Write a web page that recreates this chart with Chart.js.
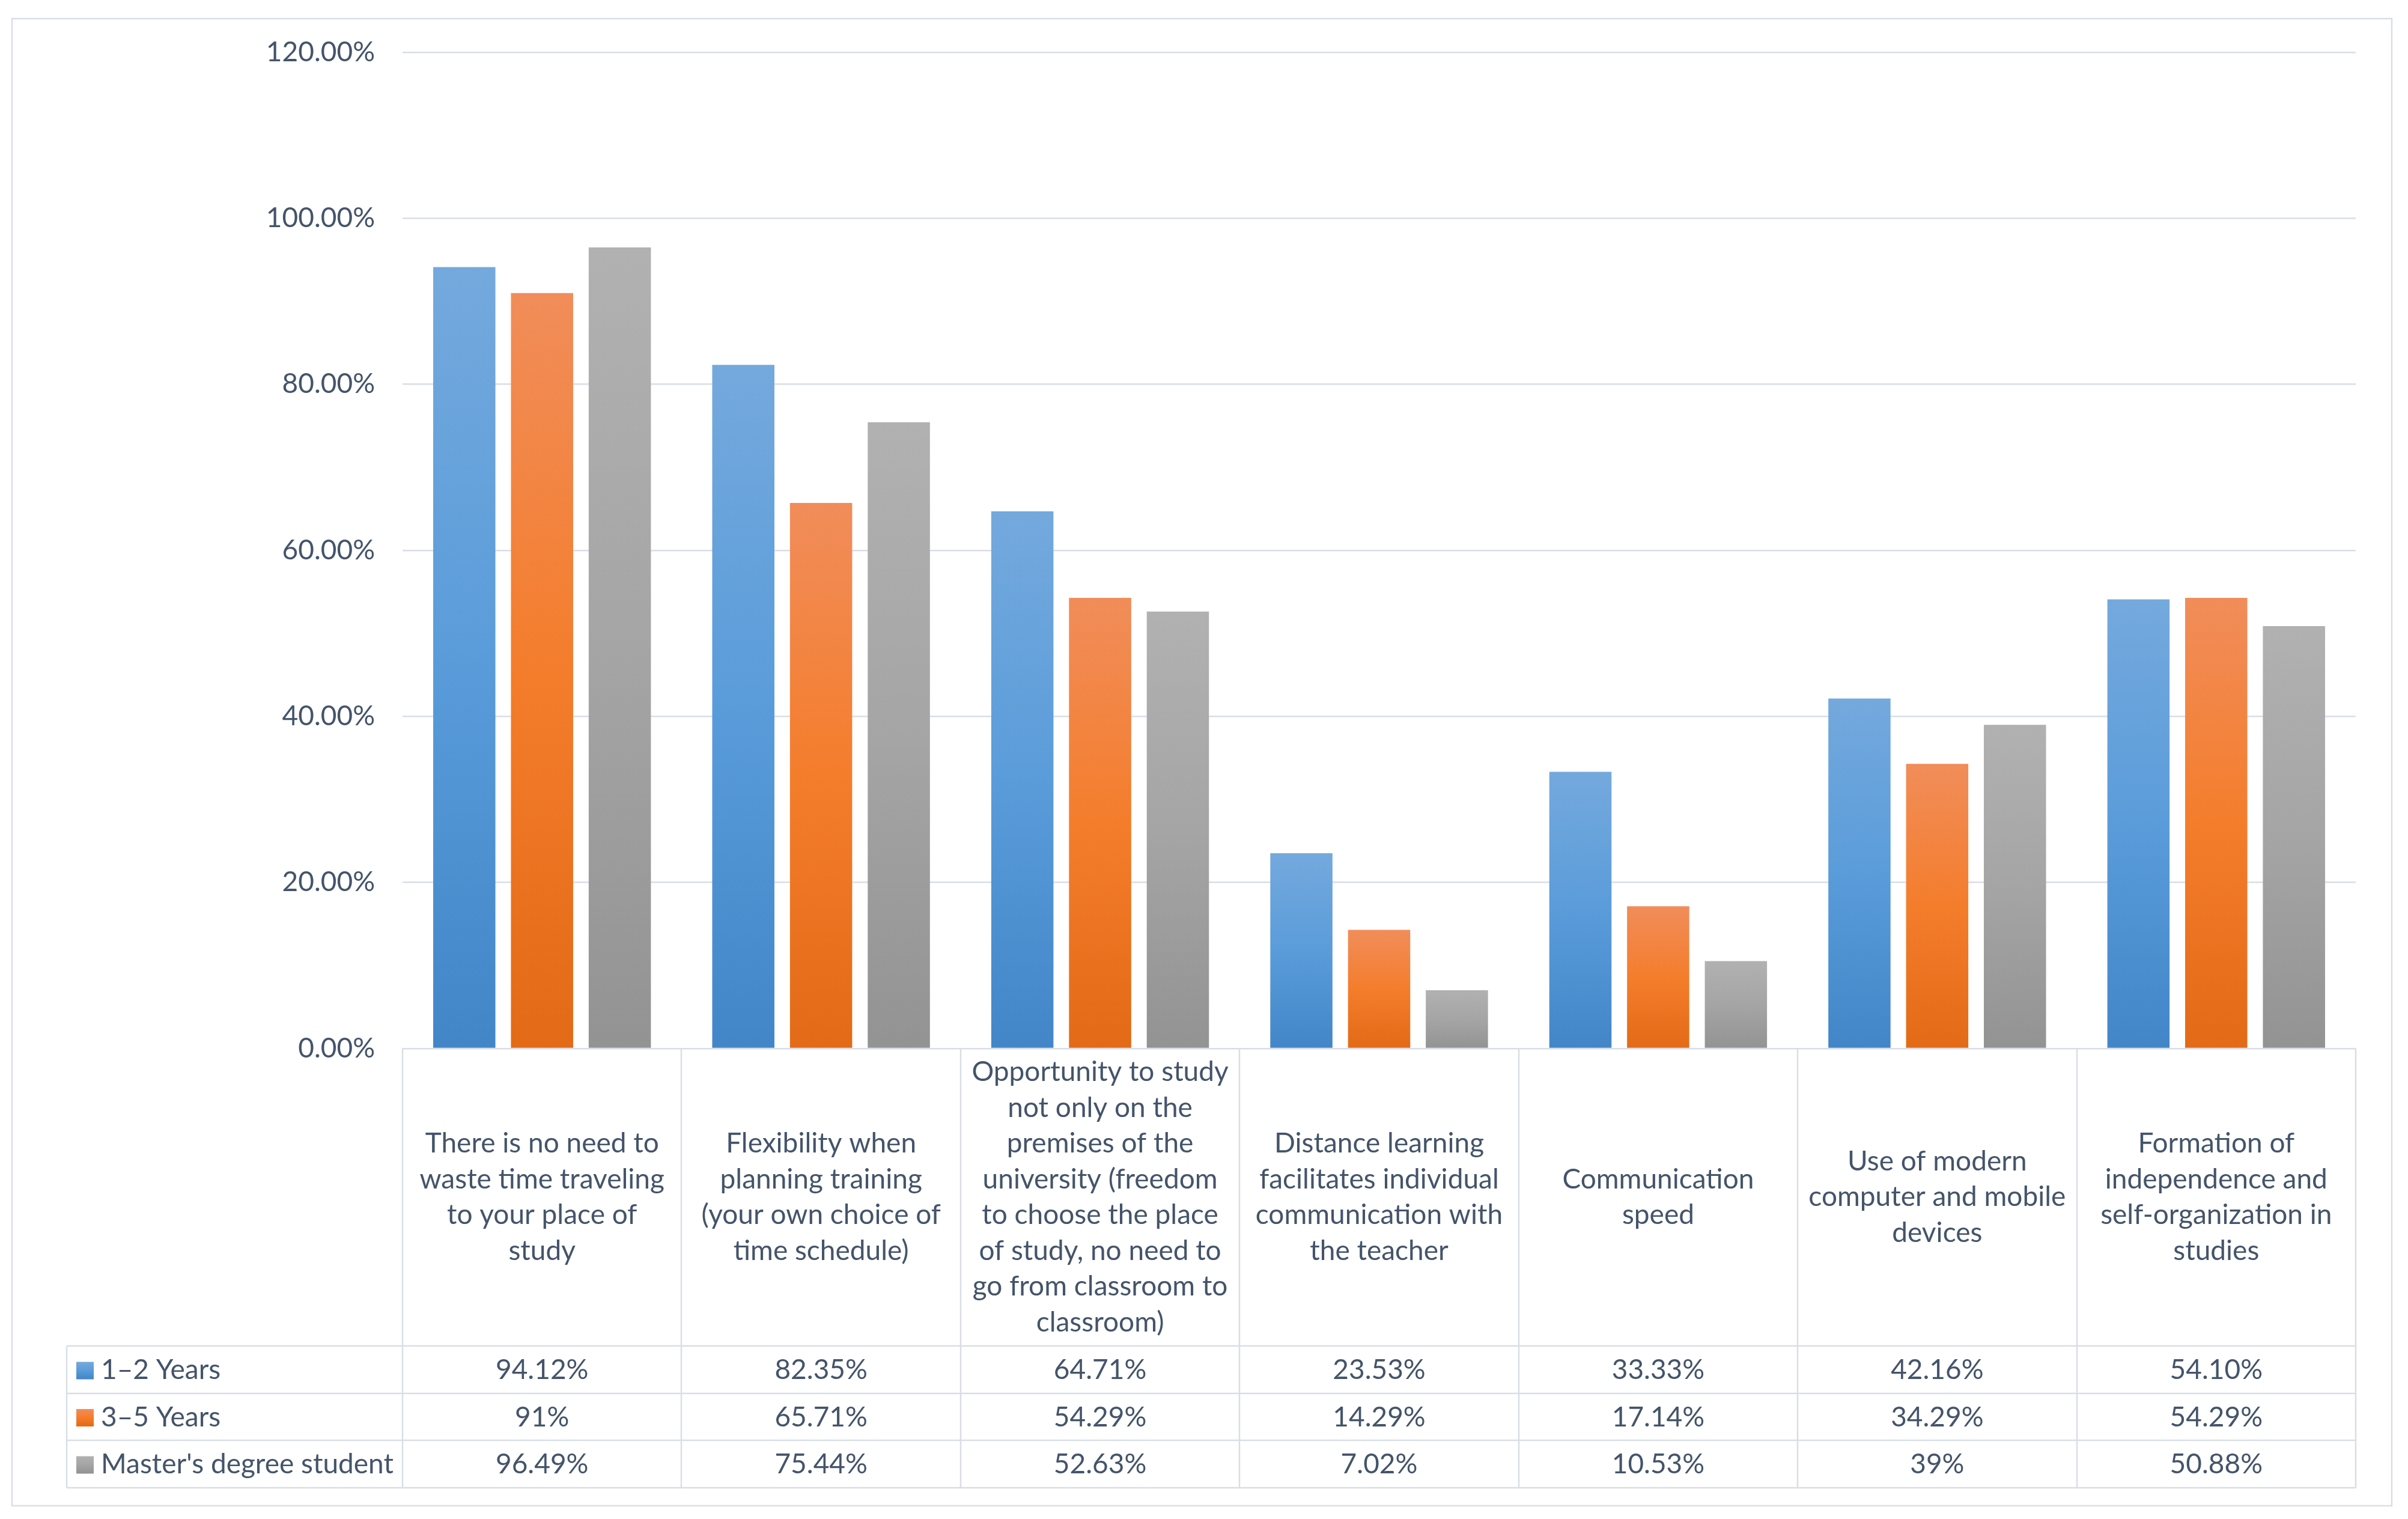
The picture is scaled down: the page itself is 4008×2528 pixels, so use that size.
<!DOCTYPE html>
<html>
<head>
<meta charset="utf-8">
<title>Distance learning advantages</title>
<script src="https://cdn.jsdelivr.net/npm/chart.js@4.4.1/dist/chart.umd.min.js"></script>
<style>
  html, body { margin: 0; padding: 0; background: #ffffff; }
  canvas { display: block; }
</style>
</head>
<body>
<canvas id="chart" width="4008" height="2528"></canvas>
<script>
"use strict";

const categories = [
  ['There is no need to', 'waste time traveling', 'to your place of', 'study'],
  ['Flexibility when', 'planning training', '(your own choice of', 'time schedule)'],
  ['Opportunity to study', 'not only on the', 'premises of the', 'university (freedom',
   'to choose the place', 'of study, no need to', 'go from classroom to', 'classroom)'],
  ['Distance learning', 'facilitates individual', 'communication with', 'the teacher'],
  ['Communication', 'speed'],
  ['Use of modern', 'computer and mobile', 'devices'],
  ['Formation of', 'independence and', 'self-organization in', 'studies']
];

const seriesNames = ['1–2 Years', '3–5 Years', "Master's degree student"];
const years12 = [94.12, 82.35, 64.71, 23.53, 33.33, 42.16, 54.10];
const years35 = [91, 65.71, 54.29, 14.29, 17.14, 34.29, 54.29];
const masters = [96.49, 75.44, 52.63, 7.02, 10.53, 39, 50.88];
const yTicks = [0, 20, 40, 60, 80, 100, 120];

// light / base / dark stops, like the Excel gradient fill
const blueStops = ['#74a9dd', '#5a9cda', '#4286c8'];
const orangeStops = ['#f18d5a', '#f47d2c', '#e36a16'];
const grayStops = ['#b1b1b1', '#a5a5a5', '#939393'];

const FONT = 'Lato, "Liberation Sans", Arial, sans-serif';
const FONT_SIZE = 46;
const TEXT = '#44546a';
const LINE = '#d9dee6';

function fmtPct(v) {
  return (Number.isInteger(v) ? v : v.toFixed(2)) + '%';
}

function gradient(ctx, top, bottom, stops) {
  const g = ctx.createLinearGradient(0, top, 0, bottom);
  g.addColorStop(0, stops[0]);
  g.addColorStop(0.5, stops[1]);
  g.addColorStop(1, stops[2]);
  return g;
}

function barFill(stops) {
  return function (context) {
    const chart = context.chart;
    if (!chart.chartArea || context.type !== 'data') return stops[1];
    const y = chart.scales.y;
    return gradient(chart.ctx, y.getPixelForValue(context.raw), y.getPixelForValue(0), stops);
  };
}

// table rows below the plot
const headerBottom = 2240;
const rowBottoms = [2319, 2397, 2476];
const tableLeft = 111;
const lineHeight = 59.5;

const dataTable = {
  id: 'dataTable',
  afterDraw(chart) {
    const ctx = chart.ctx;
    const x = chart.scales.x;
    const area = chart.chartArea;
    const n = categories.length;
    const colLeft = i => x.getPixelForValue(i - 0.5);
    const rows = [years12, years35, masters];
    const stops = [blueStops, orangeStops, grayStops];

    ctx.save();
    ctx.strokeStyle = LINE;
    ctx.lineWidth = 2.5;

    // outer chart border
    ctx.strokeRect(20, 31, 3961, 2475);

    ctx.beginPath();
    for (let i = 0; i <= n; i++) {
      const px = Math.round(colLeft(i));
      ctx.moveTo(px, area.bottom);
      ctx.lineTo(px, rowBottoms[2]);
    }
    ctx.moveTo(tableLeft, headerBottom);
    ctx.lineTo(tableLeft, rowBottoms[2]);
    [headerBottom].concat(rowBottoms).forEach(yy => {
      ctx.moveTo(tableLeft, yy);
      ctx.lineTo(area.right, yy);
    });
    ctx.stroke();

    ctx.fillStyle = TEXT;
    ctx.font = FONT_SIZE + 'px ' + FONT;
    ctx.textAlign = 'center';
    ctx.textBaseline = 'middle';

    // category header cells
    const midHeader = (area.bottom + headerBottom) / 2;
    categories.forEach((lines, i) => {
      const cx = x.getPixelForValue(i);
      const y0 = midHeader - (lines.length - 1) * lineHeight / 2;
      lines.forEach((t, k) => ctx.fillText(t, cx, y0 + k * lineHeight));
    });

    // value rows with legend keys
    let top = headerBottom;
    rows.forEach((vals, r) => {
      const cy = (top + rowBottoms[r]) / 2 + 1;
      ctx.textAlign = 'center';
      ctx.fillStyle = TEXT;
      vals.forEach((v, i) => ctx.fillText(fmtPct(v), x.getPixelForValue(i), cy));

      ctx.fillStyle = gradient(ctx, cy - 14, cy + 14, stops[r]);
      ctx.fillRect(127, cy - 14, 29, 29);
      ctx.fillStyle = TEXT;
      ctx.textAlign = 'left';
      ctx.fillText(seriesNames[r], 168, cy);
      top = rowBottoms[r];
    });
    ctx.restore();
  }
};

new Chart(document.getElementById('chart'), {
  type: 'bar',
  data: {
    labels: categories,
    datasets: [
      { label: seriesNames[0], data: years12, backgroundColor: barFill(blueStops) },
      { label: seriesNames[1], data: years35, backgroundColor: barFill(orangeStops) },
      { label: seriesNames[2], data: masters, backgroundColor: barFill(grayStops) }
    ]
  },
  options: {
    responsive: false,
    devicePixelRatio: 1,
    animation: false,
    layout: { padding: { left: 0, right: 87, top: 87, bottom: 783 } },
    datasets: { bar: { categoryPercentage: 0.836, barPercentage: 0.8 } },
    plugins: { legend: { display: false }, tooltip: { enabled: false } },
    scales: {
      x: {
        grid: { display: false },
        border: { display: false },
        ticks: { display: false },
        afterFit(scale) { scale.height = 0; }
      },
      y: {
        min: 0,
        max: 120,
        afterFit(scale) { scale.width = 670; },
        afterBuildTicks(scale) { scale.ticks = yTicks.map(v => ({ value: v })); },
        grid: { color: LINE, lineWidth: 2.5, drawTicks: false },
        border: { display: false },
        ticks: {
          padding: 46,
          color: TEXT,
          font: { family: FONT, size: FONT_SIZE },
          callback: v => v.toFixed(2) + '%'
        }
      }
    }
  },
  plugins: [dataTable]
});
</script>
</body>
</html>
